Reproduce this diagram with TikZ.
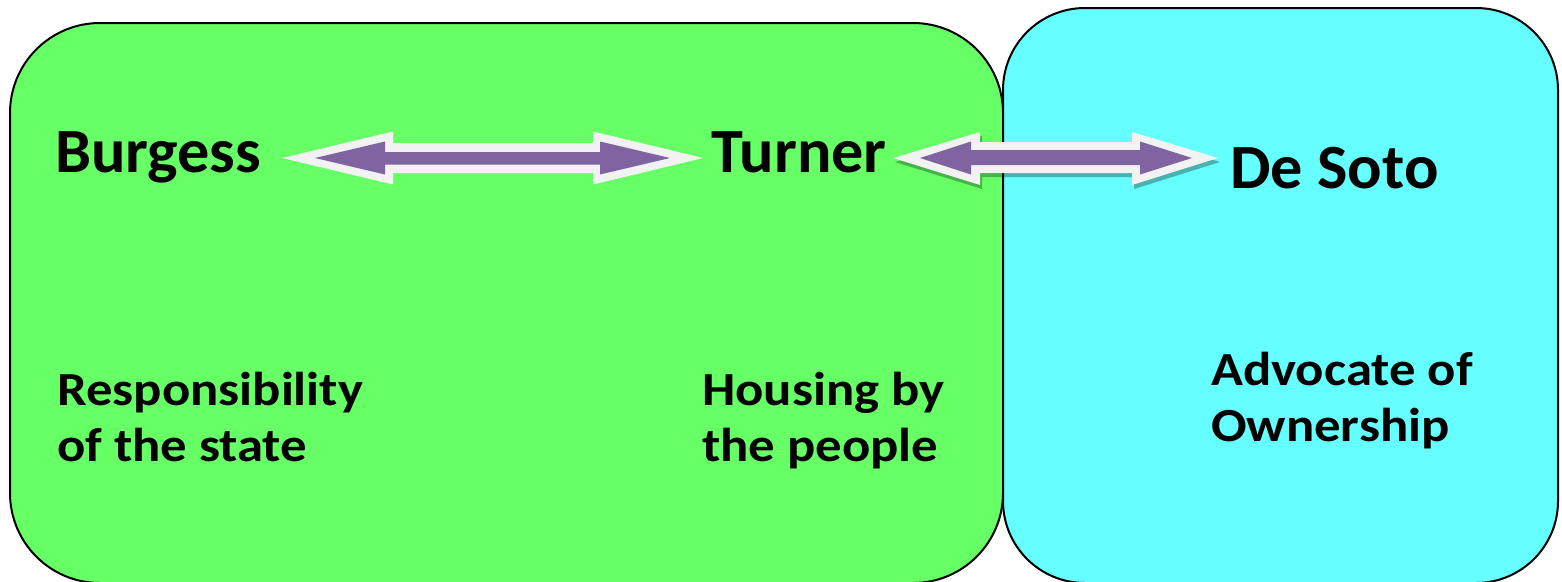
\documentclass[tikz,border=0pt]{standalone}
\usepackage{fontspec}
\setmainfont{Carlito}
\newfontfamily\bodyfont[FakeStretch=1.11]{Carlito}
\newfontfamily\titlefont[FakeStretch=1.02]{Carlito}
\begin{document}
\begin{tikzpicture}[x=1pt,y=-1pt,
  box/.style={draw=black,line width=2pt},
  title/.style={inner sep=0pt,font=\titlefont\bfseries\fontsize{63}{75}\selectfont},
  body/.style={inner sep=0pt,align=left,font=\bodyfont\bfseries\fontsize{47.5}{56}\selectfont},
  arrowout/.style={fill=arrowwhite},
  arrowin/.style={fill=arrowpurple}]
\definecolor{boxgreen}{HTML}{66FF66}
\definecolor{boxcyan}{HTML}{66FFFF}
\definecolor{arrowwhite}{HTML}{F2F2F2}
\definecolor{arrowpurple}{HTML}{8064A2}
\useasboundingbox (0,0) rectangle (1562,581);
\fill[white] (0,0) rectangle (1562,581);
% boxes
\draw[box,fill=boxgreen,rounded corners=90pt] (10,23) rectangle (1003,583);
\draw[box,fill=boxcyan,rounded corners=82pt] (1003,8) rectangle (1558,583);
% titles
\node[title,anchor=base west] (burgess) at (55,172) {Burgess};
\node[title,anchor=base west] (turner) at (711,172) {Turner};
\node[title,anchor=base west] (desoto) at (1230,188) {De Soto};
% body texts (anchor on last line's baseline)
\node[body,anchor=base west] (resp) at (57,461) {Responsibility\\of the state};
\node[body,anchor=base west] (house) at (702,461) {Housing by\\the people};
\node[body,anchor=base west] (adv) at (1211,441) {Advocate of\\Ownership};
% arrow Burgess <-> Turner
\fill[arrowout] (282,158) -- (393,131.5) -- (393,143) -- (593,143) -- (593,131.5) -- (703,158)
  -- (593,184.5) -- (593,173) -- (393,173) -- (393,184.5) -- cycle;
\fill[arrowin] (315,158) -- (385,141.5) -- (385,152) -- (600,152) -- (600,141.5) -- (670,158)
  -- (600,174.5) -- (600,164.5) -- (385,164.5) -- (385,174.5) -- cycle;
% arrow Turner <-> De Soto (with shadow)
\fill[black,opacity=0.3] (895,162) -- (982,136) -- (982,146) -- (1134,146) -- (1134,136) -- (1220,162)
  -- (1134,189) -- (1134,177) -- (982,177) -- (982,189) -- cycle;
\fill[arrowout] (893,158) -- (980,132) -- (980,142) -- (1132,142) -- (1132,132) -- (1218,158)
  -- (1132,185) -- (1132,173) -- (980,173) -- (980,185) -- cycle;
\fill[arrowin] (920,158) -- (971,141.5) -- (971,150) -- (1140,150) -- (1140,141.5) -- (1192,158)
  -- (1140,174.5) -- (1140,165) -- (971,165) -- (971,174.5) -- cycle;
\end{tikzpicture}
\end{document}
